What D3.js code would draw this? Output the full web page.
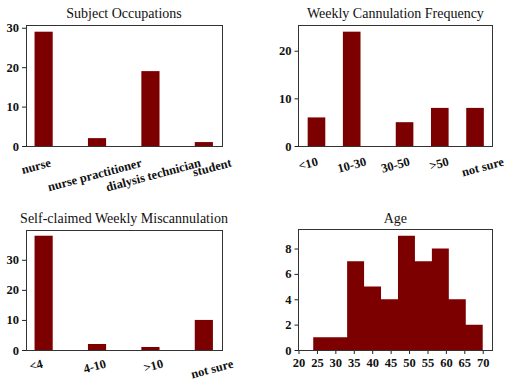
<!DOCTYPE html>
<html>
<head>
<meta charset="utf-8">
<script src="https://cdn.jsdelivr.net/npm/d3@7"></script>
<style>
  body { margin: 0; background: #fff; }
  svg { display: block; }
</style>
</head>
<body>
<svg id="chart" width="510" height="388"></svg>
<script>
// Subject occupations
const occupations = ['nurse', 'nurse practitioner', 'dialysis technician', 'student'];
const occupationCounts = [29, 2, 19, 1];

// Weekly cannulation frequency (bars sit on uneven slots in the original)
const freqCats = ['<10', '10-30', '30-50', '>50', 'not sure'];
const freqCounts = [6, 24, 5, 8, 8];
const freqSlots = [0, 1, 2.5, 3.5, 4.5];

// Self-claimed weekly miscannulation
const miscCats = ['<4', '4-10', '>10', 'not sure'];
const miscCounts = [38, 2, 1, 10];

// Age histogram
const ageEdges = [24, 28.6, 33.2, 37.8, 42.4, 47, 51.6, 56.2, 60.8, 65.4, 70];
const ageCounts = [1, 1, 7, 5, 4, 9, 7, 8, 4, 2];
const ageTicks = [20, 25, 30, 35, 40, 45, 50, 55, 60, 65, 70];

const BAR = '#7d0000';
const SERIF = '"Liberation Serif", "Times New Roman", Times, serif';
const svg = d3.select('#chart');

function boldText(sel) {
    sel.style('font-family', SERIF)
        .style('font-weight', '700')
        .style('font-size', '12.5px')
        .style('fill', '#111');
}

// y axis + title, shared by all panels
function frame(p, yDomain, yTicks, title) {
    const y = d3.scaleLinear().domain(yDomain).range([p.y1, p.y0]);
    const g = svg.append('g');
    g.append('g')
        .attr('transform', `translate(${p.x0},0)`)
        .call(d3.axisLeft(y).tickValues(yTicks).tickSize(4).tickPadding(3).tickSizeOuter(0))
        .call(a => a.select('.domain').remove())
        .call(a => a.selectAll('line').attr('stroke', '#222'))
        .call(a => boldText(a.selectAll('text')));
    g.append('text')
        .attr('x', (p.x0 + p.x1) / 2)
        .attr('y', p.y0 - 7)
        .attr('text-anchor', 'middle')
        .style('font-family', SERIF)
        .style('font-size', '14px')
        .style('fill', '#111')
        .text(title);
    return {g, y};
}

function border(g, p) {
    g.append('rect')
        .attr('x', p.x0).attr('y', p.y0)
        .attr('width', p.x1 - p.x0).attr('height', p.y1 - p.y0)
        .attr('fill', 'none').attr('stroke', '#333').attr('stroke-width', 1)
        .attr('shape-rendering', 'crispEdges');
}

// slanted category labels, bounding box centred on the tick like matplotlib
function slantLabels(g, p, cats, padding, gap) {
    const lx = d3.scalePoint().domain(cats).range([p.x0, p.x1]).padding(padding);
    const a = 15 * Math.PI / 180;
    cats.forEach(c => {
        const t = g.append('text').attr('text-anchor', 'middle').attr('dy', '0.35em').text(c);
        boldText(t);
        const w = t.node().getComputedTextLength();
        const h = 12.5;
        const cx = lx(c);
        const cy = p.y1 + gap + (w * Math.sin(a) + h * Math.cos(a)) / 2;
        t.attr('x', cx).attr('y', cy).attr('transform', `rotate(-15,${cx},${cy})`);
    });
}

function barPanel(p, cats, counts, slots, xDomain, barW, yDomain, yTicks, title, labelPad, gap) {
    const {g, y} = frame(p, yDomain, yTicks, title);
    const x = d3.scaleLinear().domain(xDomain).range([p.x0, p.x1]);
    g.selectAll('.bar')
        .data(counts)
        .enter()
        .append('rect')
        .attr('class', 'bar')
        .attr('x', (d, i) => x(slots[i] - barW / 2))
        .attr('width', x(barW) - x(0))
        .attr('y', d => y(d))
        .attr('height', d => y(0) - y(d))
        .attr('fill', BAR);
    border(g, p);
    slantLabels(g, p, cats, labelPad, gap);
}

const p1 = {x0: 26, x1: 222, y0: 25, y1: 146};
const p2 = {x0: 298.5, x1: 492.3, y0: 25, y1: 146};
const p3 = {x0: 26, x1: 222, y0: 230, y1: 350};
const p4 = {x0: 298.5, x1: 492.3, y0: 229.5, y1: 350};

barPanel(p1, occupations, occupationCounts, occupations.map((d, i) => i),
    [-0.33, 3.34], 0.34, [0, 30.7], [0, 10, 20, 30], 'Subject Occupations', 0.17, 10);

barPanel(p2, freqCats, freqCounts, freqSlots,
    [-0.51, 4.99], 0.5, [0, 25.4], [0, 10, 20], 'Weekly Cannulation Frequency', 0.22, 9);

barPanel(p3, miscCats, miscCounts, miscCats.map((d, i) => i),
    [-0.33, 3.34], 0.34, [0, 39.9], [0, 10, 20, 30], 'Self-claimed Weekly Miscannulation', 0.17, 7);

// Age histogram, drawn as one stepped area so bins have no seams
{
    const {g, y} = frame(p4, [0, 9.5], [0, 2, 4, 6, 8], 'Age');
    const x = d3.scaleLinear().domain([20, 72.6]).range([p4.x0, p4.x1]);
    const steps = ageEdges.map((e, i) => ({e, c: i < ageCounts.length ? ageCounts[i] : ageCounts[i - 1]}));
    g.append('path')
        .datum(steps)
        .attr('d', d3.area().curve(d3.curveStepAfter).x(d => x(d.e)).y0(y(0)).y1(d => y(d.c)))
        .attr('fill', BAR);
    g.append('g')
        .attr('transform', `translate(0,${p4.y1})`)
        .call(d3.axisBottom(x).tickValues(ageTicks).tickSize(4).tickPadding(4).tickSizeOuter(0))
        .call(a => a.select('.domain').remove())
        .call(a => a.selectAll('line').attr('stroke', '#222'))
        .call(a => boldText(a.selectAll('text')));
    border(g, p4);
}
</script>
</body>
</html>
